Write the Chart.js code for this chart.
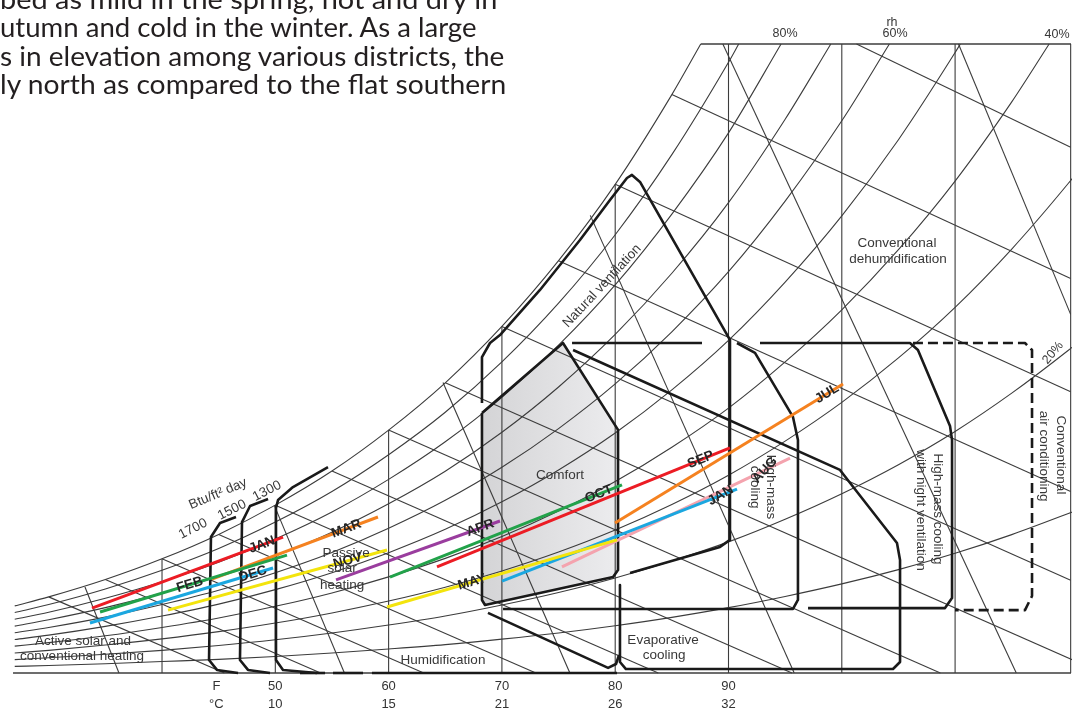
<!DOCTYPE html>
<html><head><meta charset="utf-8">
<script src="https://cdn.jsdelivr.net/npm/chart.js@4.4.1/dist/chart.umd.min.js"></script>
<style>
html,body{margin:0;padding:0;background:#fff;}
#wrap{position:relative;width:1075px;height:712px;overflow:hidden;background:#fff;}
#c{position:absolute;left:0;top:0;}
.para{position:absolute;font-family:Lato,"Open Sans",sans-serif;font-size:26px;color:#231f20;white-space:nowrap;transform-origin:0 0;}
</style></head><body>
<div id="wrap"><canvas id="c" width="1075" height="712"></canvas></div>
<script>
// ---------- DATA (x = dry-bulb °F, y = humidity ratio g/kg) ----------
const tickPos = [44.8, 50, 60, 70, 80, 90];
const tickF = ['F', '50', '60', '70', '80', '90'];
const tickC = ['°C', '10', '15', '21', '26', '32'];

const satT = [27, 30, 35, 40, 45, 50, 55, 60, 65, 70, 75, 80, 85, 87.55];
const satW = [3.05, 3.46, 4.25, 5.19, 6.30, 7.63, 9.18, 11.04, 13.19, 15.75, 18.74, 22.21, 26.29, 28.59];

const rhT = [27, 30, 35, 40, 45, 50, 55, 60, 65, 70, 75, 80, 85, 90, 95, 100, 105, 110, 115, 120, 121];
const rh90 = [2.75, 3.11, 3.82, 4.67, 5.66, 6.86, 8.25, 9.92, 11.85, 14.14, 16.81, 19.92, 23.56, 27.76];
const rh80 = [2.44, 2.76, 3.40, 4.15, 5.03, 6.09, 7.32, 8.80, 10.51, 12.53, 14.90, 17.64, 20.86, 24.55];
const rh70 = [2.13, 2.42, 2.97, 3.63, 4.40, 5.32, 6.40, 7.69, 9.17, 10.94, 13.00, 15.39, 18.17, 21.38, 25.17];
const rh60 = [1.83, 2.07, 2.54, 3.11, 3.76, 4.56, 5.48, 6.58, 7.85, 9.35, 11.11, 13.14, 15.51, 18.24, 21.45, 25.10];
const rh50 = [1.52, 1.72, 2.12, 2.59, 3.13, 3.79, 4.56, 5.47, 6.53, 7.78, 9.23, 10.91, 12.87, 15.12, 17.77, 20.78, 24.24, 28.20];
const rh40 = [1.22, 1.38, 1.69, 2.07, 2.50, 3.03, 3.64, 4.37, 5.21, 6.20, 7.36, 8.70, 10.26, 12.04, 14.14, 16.51, 19.24, 22.36, 25.96];
const rh30 = [0.91, 1.03, 1.27, 1.55, 1.88, 2.27, 2.73, 3.27, 3.90, 4.64, 5.50, 6.50, 7.66, 8.99, 10.54, 12.30, 14.32, 16.62, 19.27, 22.26, 22.91];
const rh20 = [0.61, 0.69, 0.85, 1.03, 1.25, 1.51, 1.82, 2.18, 2.59, 3.09, 3.66, 4.32, 5.09, 5.96, 6.99, 8.15, 9.47, 10.98, 12.72, 14.67, 15.09];
const rh10 = [0.30, 0.34, 0.42, 0.52, 0.62, 0.75, 0.91, 1.09, 1.29, 1.54, 1.82, 2.15, 2.53, 2.97, 3.48, 4.05, 4.70, 5.44, 6.29, 7.25, 7.45];
const rhTopT = [90.9, 94.64, 99.03, 104.2, 110.46, 118.3, null, null, null];
const chartTopW = 28.59;

const wbStartT = [30, 35, 40, 45, 50, 55, 60, 65, 70, 75, 80, 85, 101.3];
const wbStartW = [3.46, 4.25, 5.19, 6.30, 7.63, 9.18, 11.04, 13.19, 15.75, 18.74, 22.21, 26.29, 28.59];
const wbEndT = [45.5, 54.0, 63.1, 73.0, 83.8, 95.6, 108.7, 123.0, 120.2, 120.2, 120.2, 120.2, 120.2];
const wbEndW = [0, 0, 0, 0, 0, 0, 0, 0, 4.22, 8.25, 12.78, 17.93, 23.9];

const volStartT = [33.2, 49.9, 64.8, 77.8, 89.5, 110.3];
const volStartW = [3.91, 7.63, 13.2, 20.8, 28.59, 28.59];
const volEndT = [36.2, 56.1, 76.0, 95.8, 115.4, 120.2];
const volEndW = [0, 0, 0, 0, 0, 16.3];

const dbT = [40, 50, 60, 70, 80, 90, 100, 110, 120.2];
const dbTopW = [5.19, 7.63, 11.04, 15.75, 22.21, 28.59, 28.59, 28.59, 28.59];

const topBorderT = [87.55, 120.23];
const baseT = [26.85, 120.23];
const baseThickT = [[52.18, 54.39], [55.09, 57.74], [58.53, 80.16]];

const comfortT = [68.24, 75.39, 80.25, 80.25, 79.81, 68.51, 68.24, 68.24];
const comfortW = [11.82, 15.00, 11.05, 4.68, 4.36, 3.09, 3.32, 11.82];
const natVentT = [68.24, 68.24, 68.95, 69.83, 73.36, 76.89, 79.54, 81.04, 81.48, 82.19, 90.13, 90.13, 89.25, 81.31];
const natVentW = [12.27, 14.36, 15.00, 15.36, 17.41, 19.68, 21.50, 22.50, 22.64, 22.32, 15.14, 6.05, 5.73, 4.55];
const brk1700T = [46.53, 45.12, 44.32, 44.15, 44.85, 46.71];
const brk1700W = [7.09, 6.82, 6.18, 0.59, 0.14, 0];
const brk1500T = [49.36, 47.77, 47.06, 46.88, 47.59, 49.53];
const brk1500W = [7.91, 7.59, 6.86, 0.59, 0.14, 0];
const brk1300T = [54.65, 51.56, 50.24, 50.06, 50.06, 50.68, 53.68];
const brk1300W = [9.36, 8.45, 7.86, 7.5, 0.59, 0.14, 0];
const humidT = [68.77, 79.37, 80.07, 80.34];
const humidW = [2.73, 0.23, 0.41, 0.82];
const evapT = [80.42, 80.42, 80.95, 104.52, 105.14, 105.14, 104.87, 99.84, 76.28];
const evapW = [4.00, 0.50, 0.18, 0.18, 0.50, 5.14, 5.91, 9.23, 14.68];
const hmTopT = [76.19, 87.66];
const hmTopW = [15.00, 15.00];
const hm1T = [90.75, 92.34, 95.69, 96.13, 96.13, 95.69, 70.10];
const hm1W = [15.00, 14.55, 11.64, 10.59, 3.32, 2.91, 2.91];
const hm2T = [92.78, 106.02, 106.72, 109.55, 109.73, 109.73, 109.11, 97.02];
const hm2W = [15.00, 15.00, 14.68, 11.23, 10.59, 3.41, 2.95, 2.95];
const acT = [106.28, 116.17, 116.79, 116.79, 116.17, 109.99];
const acW = [15.00, 15.00, 14.68, 3.50, 2.86, 2.86];

const months = ['JAN', 'FEB', 'DEC', 'MAR', 'NOV', 'APR', 'OCT', 'SEP', 'MAY', 'JAN', 'AUG', 'JUL'];
const monthT0 = [33.82, 34.53, 33.64, 44.41, 40.53, 55.36, 60.12, 64.27, 59.86, 70.01, 75.30, 79.98];
const monthW0 = [2.95, 2.77, 2.27, 4.27, 2.86, 4.23, 4.36, 4.82, 3.00, 4.18, 4.82, 6.82];
const monthT1 = [50.68, 51.03, 49.80, 59.06, 59.86, 69.83, 80.60, 90.13, 80.16, 90.75, 95.43, 100.11];
const monthW1 = [6.18, 5.36, 4.77, 7.09, 5.59, 6.91, 8.55, 10.23, 6.05, 8.36, 9.77, 13.14];

const para = [
  'bed as mild in the spring, hot and dry in',
  'utumn and cold in the winter. As a large',
  's in elevation among various districts, the',
  'ly north as compared to the flat southern'
];

// ---------- STYLE / LAYOUT ----------
const monthColor = ['#ec1c24', '#22a24a', '#1ba7e0', '#f58220', '#f3e40c', '#9a3d9e', '#22a24a', '#ec1c24', '#f3e40c', '#1ba7e0', '#f4a3ae', '#f58220'];
const monthLabelAt = [0.89, 0.48, 0.89, 0.81, 0.82, 0.88, 0.90, 0.90, 0.37, 0.93, 0.89, 0.93];
const monthLabelRot = [null, null, null, null, null, null, null, null, null, -30, -48, null];
const paraBase = [8.5, 37, 65.5, 94];
const paraRight = [498, 478, 505, 507];

const notes = [
  ['Active solar and', 33.03, 1.45, 0], ['conventional heating', 32.94, 0.77, 0],
  ['Humidification', 64.80, 0.59, 0], ['Evaporative', 84.22, 1.50, 0], ['cooling', 84.31, 0.82, 0],
  ['Comfort', 75.13, 9.00, 0], ['Passive', 56.24, 5.45, 0], ['solar', 55.89, 4.77, 0], ['heating', 55.89, 4.00, 0],
  ['Conventional', 104.87, 19.55, 0], ['dehumidification', 104.96, 18.82, 0],
  ['Natural ventilation', 78.84, 17.59, -47],
  ['High-mass', 93.75, 8.45, 90], ['cooling', 92.34, 8.45, 90],
  ['High-mass cooling', 108.49, 7.45, 90], ['with night ventilation', 106.99, 7.41, 90],
  ['Conventional', 119.35, 9.91, 90], ['air conditioning', 117.85, 9.86, 90],
  ['20%', 118.64, 14.55, -50], ['rh', 104.43, 29.55, 0], ['80%', 94.99, 29.05, 0], ['60%', 104.70, 29.05, 0], ['40%', 119.0, 29.0, 0],
  ['Btu/ft² day', 44.94, 8.14, -23], ['1700', 42.74, 6.55, -27], ['1500', 46.18, 7.41, -27], ['1300', 49.27, 8.27, -27]
];

const GRID = '#3c3c3c', THICK = '#1a1a1a';
const FONT = '"Liberation Sans", Arial, sans-serif';

const pts = (T, W) => T.map((t, i) => ({ x: t, y: W[i] }));
const ds = [];
function line(data, o) {
  ds.push(Object.assign({ data, showLine: true, pointRadius: 0, pointHoverRadius: 0, borderColor: GRID,
    borderWidth: 1.1, tension: 0, fill: false, clip: { left: 3, top: 1, right: 1, bottom: 3 }, order: 50 }, o || {}));
}

// comfort fill (soft grey, darker to the left as in the print)
function comfortFill(c) {
  const ch = c.chart, x = ch.scales && ch.scales.x;
  const fallback = '#e2e2e4';
  if (!x || !ch.chartArea) return fallback;
  const a = x.getPixelForValue(comfortT[0]), b = x.getPixelForValue(comfortT[2]);
  if (!isFinite(a) || !isFinite(b) || a === b) return fallback;
  const g = ch.ctx.createLinearGradient(a, 0, b, 0);
  g.addColorStop(0, '#d4d4d6'); g.addColorStop(1, '#ececee');
  return g;
}
line(pts(comfortT, comfortW), { borderWidth: 0, fill: 'shape', backgroundColor: comfortFill, order: 100 });

// grid
line(pts(satT, satW), { cubicInterpolationMode: 'monotone' });
[rh90, rh80, rh70, rh60, rh50, rh40, rh30, rh20, rh10].forEach((arr, k) => {
  const d = arr.map((w, i) => ({ x: rhT[i], y: w }));
  if (rhTopT[k] !== null) d.push({ x: rhTopT[k], y: chartTopW });
  line(d, { cubicInterpolationMode: 'monotone' });
});
wbStartT.forEach((t, i) => line([{ x: t, y: wbStartW[i] }, { x: wbEndT[i], y: wbEndW[i] }]));
volStartT.forEach((t, i) => line([{ x: t, y: volStartW[i] }, { x: volEndT[i], y: volEndW[i] }]));
dbT.forEach((t, i) => line([{ x: t, y: 0 }, { x: t, y: dbTopW[i] }]));
line([{ x: topBorderT[0], y: chartTopW }, { x: topBorderT[1], y: chartTopW }], { borderWidth: 1.4 });
line([{ x: baseT[0], y: 0 }, { x: baseT[1], y: 0 }], { borderWidth: 1.5 });

// zones
const thick = { borderColor: THICK, borderWidth: 2.6, order: 20, borderJoinStyle: 'round', borderCapStyle: 'butt' };
baseThickT.forEach(s => line([{ x: s[0], y: 0 }, { x: s[1], y: 0 }], thick));
[[comfortT, comfortW], [natVentT, natVentW], [brk1700T, brk1700W], [brk1500T, brk1500W], [brk1300T, brk1300W],
 [humidT, humidW], [evapT, evapW], [hmTopT, hmTopW], [hm1T, hm1W], [hm2T, hm2W]].forEach(p => line(pts(p[0], p[1]), thick));
line(pts(acT, acW), Object.assign({}, thick, { borderDash: [10, 5] }));

// months
months.forEach((m, i) => line([{ x: monthT0[i], y: monthW0[i] }, { x: monthT1[i], y: monthW1[i] }],
  { borderColor: monthColor[i], borderWidth: 3, order: 10, borderCapStyle: 'butt' }));

const labelPlugin = {
  id: 'labels',
  afterDraw(chart) {
    const { ctx, scales: { x, y } } = chart;
    ctx.save();
    ctx.textAlign = 'center'; ctx.textBaseline = 'middle';
    notes.forEach(n => {
      const px = x.getPixelForValue(n[1]), py = y.getPixelForValue(n[2]);
      ctx.save(); ctx.translate(px, py); ctx.rotate(n[3] * Math.PI / 180);
      const small = (n[0] === 'rh' || n[0].endsWith('%'));
      ctx.font = (small ? '12.5px ' : '13.5px ') + FONT;
      ctx.fillStyle = '#383838';
      ctx.fillText(n[0], 0, 0);
      ctx.restore();
    });
    months.forEach((m, i) => {
      const x0 = x.getPixelForValue(monthT0[i]), y0 = y.getPixelForValue(monthW0[i]);
      const x1 = x.getPixelForValue(monthT1[i]), y1 = y.getPixelForValue(monthW1[i]);
      const t = monthLabelAt[i];
      const rot = monthLabelRot[i] !== null ? monthLabelRot[i] * Math.PI / 180 : Math.atan2(y1 - y0, x1 - x0);
      ctx.save(); ctx.translate(x0 + (x1 - x0) * t, y0 + (y1 - y0) * t); ctx.rotate(rot);
      ctx.font = 'bold 13.5px ' + FONT; ctx.fillStyle = '#262626';
      ctx.fillText(m, 0, 0);
      ctx.restore();
    });
    ctx.restore();
  }
};

new Chart(document.getElementById('c'), {
  type: 'scatter',
  data: { datasets: ds },
  options: {
    responsive: false, animation: false, devicePixelRatio: 1, events: [],
    layout: { padding: { left: 0, right: 4, top: 44, bottom: 0 } },
    plugins: { legend: { display: false }, tooltip: { enabled: false } },
    scales: {
      x: {
        type: 'linear', min: 25.70, max: 120.23,
        grid: { display: false, drawTicks: false }, border: { display: false },
        afterBuildTicks: s => { s.ticks = tickPos.map(v => ({ value: v })); },
        afterFit: s => { s.height = 39; },
        ticks: { padding: 5, autoSkip: false, maxRotation: 0, color: '#333',
          font: { size: 13, family: FONT, lineHeight: 1.35 },
          callback: (v, i) => [tickF[i], tickC[i]] }
      },
      y: { type: 'linear', min: 0, max: chartTopW, display: false }
    }
  },
  plugins: [labelPlugin]
});

// paragraph text (cropped page text above the chart)
const wrap = document.getElementById('wrap');
const mc = document.createElement('canvas').getContext('2d');
mc.font = '26px Lato';
para.forEach((t, i) => {
  const m = mc.measureText(t);
  const asc = m.fontBoundingBoxAscent || 25.7, desc = m.fontBoundingBoxDescent || 5.5;
  const lh = 26;
  const d = document.createElement('div');
  d.className = 'para'; d.textContent = t;
  d.style.lineHeight = lh + 'px';
  d.style.left = '0px';
  d.style.top = (paraBase[i] - ((lh - (asc + desc)) / 2 + asc)) + 'px';
  d.style.transform = 'scaleX(' + (paraRight[i] / m.width).toFixed(4) + ')';
  wrap.appendChild(d);
});
</script>
</body></html>
